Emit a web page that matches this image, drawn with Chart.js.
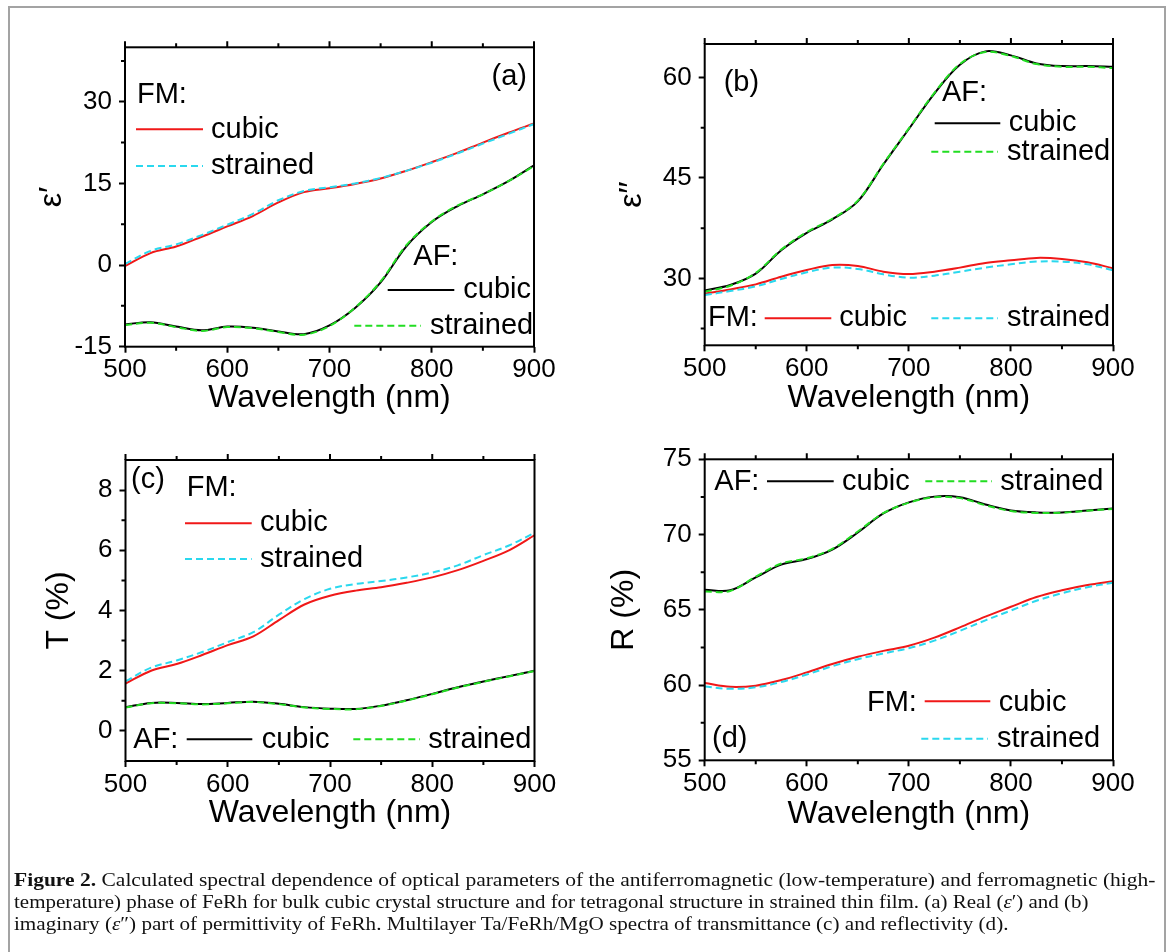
<!DOCTYPE html>
<html>
<head>
<meta charset="utf-8">
<title>FeRh optical spectra</title>
<script src="https://cdn.jsdelivr.net/npm/chart.js@4.4.1/dist/chart.umd.min.js"></script>
<style>
  html, body { margin: 0; padding: 0; background: #fff; }
  #page { position: relative; width: 1171px; height: 952px; overflow: hidden; background: #fff; }
  #frame { position: absolute; left: 8px; top: 6px; width: 1154px; height: 1000px; border: 2px solid #a3a3a3; }
  canvas { position: absolute; left: 0; top: 0; }
  .cap { position: absolute; left: 13.5px; white-space: nowrap; color: #111;
         font-family: "Liberation Serif", "DejaVu Serif", serif; font-size: 18.5px;
         line-height: 20px; transform-origin: 0 50%; }
</style>
</head>
<body>
<div id="page">
  <div id="frame"></div>
  <canvas id="panelA" width="1171" height="952"></canvas>
  <canvas id="panelB" width="1171" height="952"></canvas>
  <canvas id="panelC" width="1171" height="952"></canvas>
  <canvas id="panelD" width="1171" height="952"></canvas>
  <div class="cap" id="cap1" style="top:870px"><b>Figure 2.</b> Calculated spectral dependence of optical parameters of the antiferromagnetic (low-temperature) and ferromagnetic (high-</div>
  <div class="cap" id="cap2" style="top:892px">temperature) phase of FeRh for bulk cubic crystal structure and for tetragonal structure in strained thin film. (a) Real (<i>ε</i>′) and (b)</div>
  <div class="cap" id="cap3" style="top:913.5px">imaginary (<i>ε</i>″) part of permittivity of FeRh. Multilayer Ta/FeRh/MgO spectra of transmittance (c) and reflectivity (d).</div>
</div>

<script>
// ---- wavelength grid (nm) and axis ticks ----
const wavelength = [500, 525, 550, 575, 600, 625, 650, 675, 700, 725, 750, 775, 800, 825, 850, 875, 900];
const xMajorTicks = [500, 600, 700, 800, 900];
const xMinorTicks = [550, 650, 750, 850];

// ---- (a) real part of permittivity ----
const epsReFmCubic    = [-0.2, 2.2, 3.4, 5.2, 7.1, 9.0, 11.5, 13.4, 14.1, 14.9, 15.9, 17.3, 18.9, 20.6, 22.5, 24.3, 26.0];
const epsReFmStrained = [0.2, 2.6, 3.8, 5.5, 7.4, 9.4, 11.9, 13.6, 14.3, 15.0, 16.0, 17.3, 18.8, 20.5, 22.3, 24.1, 25.9];
const epsReAfCubic    = [-10.9, -10.5, -11.3, -12.0, -11.3, -11.5, -12.2, -12.7, -11.1, -7.9, -3.2, 3.4, 7.9, 10.8, 13.0, 15.4, 18.3];
const epsReAfStrained = [-11.0, -10.6, -11.4, -12.1, -11.4, -11.6, -12.3, -12.8, -11.2, -7.8, -3.0, 3.6, 8.0, 10.9, 13.0, 15.4, 18.2];
const epsReTicks = [-15, 0, 15, 30];
const epsReMinor = [-7.5, 7.5, 22.5, 37.5];

// ---- (b) imaginary part of permittivity ----
const epsImAfCubic    = [28.2, 29.0, 30.7, 34.2, 36.8, 38.8, 41.5, 47.0, 52.3, 57.6, 61.9, 63.9, 63.3, 62.1, 61.7, 61.7, 61.6];
const epsImAfStrained = [28.0, 28.9, 30.8, 34.3, 36.9, 38.9, 41.6, 47.1, 52.4, 57.7, 62.0, 63.8, 63.2, 62.0, 61.6, 61.6, 61.4];
const epsImFmCubic    = [27.7, 28.35, 29.1, 30.25, 31.25, 32.0, 31.85, 31.0, 30.65, 31.0, 31.6, 32.3, 32.7, 33.05, 32.9, 32.4, 31.5];
const epsImFmStrained = [27.5, 28.1, 28.8, 29.9, 30.9, 31.6, 31.4, 30.6, 30.1, 30.4, 31.0, 31.6, 32.1, 32.5, 32.5, 32.1, 31.2];
const epsImTicks = [30, 45, 60];
const epsImMinor = [22.5, 37.5, 52.5];

// ---- (c) transmittance, % ----
const tFmCubic    = [1.57, 2.0, 2.22, 2.52, 2.85, 3.14, 3.68, 4.2, 4.49, 4.66, 4.77, 4.92, 5.1, 5.34, 5.65, 6.0, 6.5];
const tFmStrained = [1.65, 2.1, 2.34, 2.62, 2.95, 3.28, 3.86, 4.38, 4.72, 4.88, 4.98, 5.1, 5.26, 5.5, 5.84, 6.16, 6.58];
const tAfCubic    = [0.79, 0.93, 0.93, 0.89, 0.93, 0.97, 0.9, 0.79, 0.74, 0.73, 0.84, 1.02, 1.23, 1.45, 1.64, 1.82, 2.0];
const tAfStrained = [0.78, 0.92, 0.92, 0.88, 0.92, 0.96, 0.89, 0.78, 0.73, 0.72, 0.83, 1.01, 1.22, 1.44, 1.63, 1.81, 1.99];
const tTicks = [0, 2, 4, 6, 8];
const tMinor = [1, 3, 5, 7];

// ---- (d) reflectivity, % ----
const rAfCubic    = [66.33, 66.3, 67.15, 68.0, 68.37, 69.0, 70.14, 71.4, 72.14, 72.52, 72.48, 72.0, 71.6, 71.47, 71.47, 71.6, 71.73];
const rAfStrained = [66.22, 66.25, 67.2, 68.08, 68.42, 69.05, 70.2, 71.42, 72.12, 72.48, 72.42, 71.95, 71.56, 71.44, 71.45, 71.58, 71.7];
const rFmCubic    = [60.13, 59.88, 59.96, 60.33, 60.84, 61.4, 61.88, 62.27, 62.61, 63.15, 63.83, 64.55, 65.2, 65.85, 66.3, 66.65, 66.9];
const rFmStrained = [59.9, 59.75, 59.85, 60.2, 60.7, 61.25, 61.72, 62.1, 62.45, 62.95, 63.6, 64.3, 64.95, 65.6, 66.1, 66.5, 66.8];
const rTicks = [55, 60, 65, 70, 75];
const rMinor = [57.5, 62.5, 67.5, 72.5];

// ---- styling ----
const RED = '#f01818', CYAN = '#2ad8ee', BLACK = '#000000', GREEN = '#22dd22';
const DASH = [7, 4];
const SANS = '"Liberation Sans", Arial, Helvetica, sans-serif';
const Y_AXIS_W = 100, X_AXIS_H = 80;

function toPoints(ys) { return wavelength.map((x, i) => ({ x: x, y: ys[i] })); }

function solid(ys, color) {
  return { data: toPoints(ys), borderColor: color, borderWidth: 2, pointRadius: 0,
           tension: 0.35, fill: false, order: 1 };
}
function dashed(ys, color) {
  return { data: toPoints(ys), borderColor: color, borderWidth: 2, borderDash: DASH, pointRadius: 0,
           tension: 0.35, fill: false, order: 0 };
}

// frame box, minor ticks, top-axis ticks and the in-plot key
const decorPlugin = {
  id: 'decor',
  afterDatasetsDraw(chart, args, o) {
    const ctx = chart.ctx, ca = chart.chartArea;
    const xs = chart.scales.x, ys = chart.scales.y;
    ctx.save();
    ctx.strokeStyle = '#000';
    ctx.lineWidth = 2;
    ctx.strokeRect(ca.left, ca.top, ca.right - ca.left, ca.bottom - ca.top);
    ctx.beginPath();
    xMinorTicks.forEach(v => {
      const px = xs.getPixelForValue(v);
      ctx.moveTo(px, ca.bottom); ctx.lineTo(px, ca.bottom + 4);
      ctx.moveTo(px, ca.top); ctx.lineTo(px, ca.top - 4);
    });
    xMajorTicks.forEach(v => {
      const px = xs.getPixelForValue(v);
      ctx.moveTo(px, ca.top); ctx.lineTo(px, ca.top - 6);
    });
    o.yMinor.forEach(v => {
      const py = ys.getPixelForValue(v);
      ctx.moveTo(ca.left, py); ctx.lineTo(ca.left - 4, py);
    });
    ctx.stroke();
    ctx.restore();
  },
  afterDraw(chart, args, o) {
    const ctx = chart.ctx;
    ctx.save();
    o.key.forEach(item => {
      if (item.text !== undefined) {
        ctx.font = '29px ' + SANS;
        ctx.fillStyle = '#000';
        ctx.textAlign = 'left';
        ctx.textBaseline = 'middle';
        ctx.fillText(item.text, item.x, item.y);
      } else {
        ctx.strokeStyle = item.color;
        ctx.lineWidth = 2;
        ctx.setLineDash(item.dash ? DASH : []);
        ctx.beginPath();
        ctx.moveTo(item.x1, item.y); ctx.lineTo(item.x2, item.y);
        ctx.stroke();
        ctx.setLineDash([]);
      }
    });
    ctx.restore();
  }
};

function makePanel(id, p) {
  const W = 1171, H = 952;
  return new Chart(document.getElementById(id), {
    type: 'line',
    data: { datasets: p.datasets },
    plugins: [decorPlugin],
    options: {
      responsive: false,
      animation: false,
      events: [],
      layout: { padding: { left: p.area.L - Y_AXIS_W, top: p.area.T,
                           right: W - p.area.R, bottom: H - p.area.B - X_AXIS_H } },
      plugins: {
        legend: { display: false },
        tooltip: { enabled: false },
        decor: { yMinor: p.yMinor, key: p.key }
      },
      scales: {
        x: {
          type: 'linear', min: 500, max: 900,
          afterBuildTicks: s => { s.ticks = xMajorTicks.map(v => ({ value: v })); },
          afterFit: s => { s.height = X_AXIS_H; },
          ticks: { color: '#000', font: { family: SANS, size: 26 }, padding: 2, maxRotation: 0,
                   callback: v => String(v) },
          grid: { display: true, drawOnChartArea: false, drawTicks: true, tickLength: 6,
                  tickWidth: 2, tickColor: '#000' },
          border: { display: false },
          title: { display: true, text: 'Wavelength (nm)', color: '#000',
                   font: { family: SANS, size: 32 }, padding: { top: 0, bottom: p.xTitlePad } }
        },
        y: {
          type: 'linear', min: p.yMin, max: p.yMax,
          afterBuildTicks: s => { s.ticks = p.yTicks.map(v => ({ value: v })); },
          afterFit: s => { s.width = Y_AXIS_W; },
          ticks: { color: '#000', font: { family: SANS, size: 26 }, padding: 7,
                   callback: v => String(v) },
          grid: { display: true, drawOnChartArea: false, drawTicks: true, tickLength: 6,
                  tickWidth: 2, tickColor: '#000' },
          border: { display: false },
          title: { display: true, text: p.yTitle, color: '#000',
                   font: { family: SANS, size: 32 }, padding: { top: p.yTitlePad, bottom: 0 } }
        }
      }
    }
  });
}

// (a) ε′
makePanel('panelA', {
  area: { L: 125, T: 47.3, R: 534, B: 346.7 },
  yMin: -15, yMax: 40, yTicks: epsReTicks, yMinor: epsReMinor,
  yTitle: 'ε′', yTitlePad: 7.5, xTitlePad: 9.5,
  datasets: [
    dashed(epsReFmStrained, CYAN), solid(epsReFmCubic, RED),
    dashed(epsReAfStrained, GREEN), solid(epsReAfCubic, BLACK)
  ],
  key: [
    { text: 'FM:', x: 137, y: 95 },
    { x1: 136, x2: 203, y: 129.3, color: RED },
    { text: 'cubic', x: 211, y: 130 },
    { x1: 136, x2: 203, y: 166, color: CYAN, dash: true },
    { text: 'strained', x: 211, y: 166 },
    { text: '(a)', x: 491.5, y: 77 },
    { text: 'AF:', x: 413.3, y: 256.7 },
    { x1: 387.7, x2: 454.3, y: 290, color: BLACK },
    { text: 'cubic', x: 463.3, y: 290 },
    { x1: 354.3, x2: 421, y: 325.7, color: GREEN, dash: true },
    { text: 'strained', x: 430, y: 325.7 }
  ]
});

// (b) ε″
makePanel('panelB', {
  area: { L: 704.7, T: 44, R: 1113, B: 345.3 },
  yMin: 20, yMax: 65, yTicks: epsImTicks, yMinor: epsImMinor,
  yTitle: 'ε′′', yTitlePad: 8.7, xTitlePad: 7.8,
  datasets: [
    dashed(epsImFmStrained, CYAN), solid(epsImFmCubic, RED),
    dashed(epsImAfStrained, GREEN), solid(epsImAfCubic, BLACK)
  ],
  key: [
    { text: '(b)', x: 723.7, y: 83.3 },
    { text: 'AF:', x: 942, y: 93.3 },
    { x1: 934.7, x2: 1000.3, y: 123.3, color: BLACK },
    { text: 'cubic', x: 1008.7, y: 123.3 },
    { x1: 931.3, x2: 998, y: 151.7, color: GREEN, dash: true },
    { text: 'strained', x: 1007, y: 151.7 },
    { text: 'FM:', x: 708, y: 318.3 },
    { x1: 764.7, x2: 831.3, y: 318.3, color: RED },
    { text: 'cubic', x: 839.3, y: 318.3 },
    { x1: 931.3, x2: 998, y: 318.3, color: CYAN, dash: true },
    { text: 'strained', x: 1007, y: 318.3 }
  ]
});

// (c) transmittance
makePanel('panelC', {
  area: { L: 125.5, T: 460, R: 534.5, B: 761 },
  yMin: -1, yMax: 9, yTicks: tTicks, yMinor: tMinor,
  yTitle: 'T (%)', yTitlePad: 14.3, xTitlePad: 8.4,
  datasets: [
    dashed(tFmStrained, CYAN), solid(tFmCubic, RED),
    dashed(tAfStrained, GREEN), solid(tAfCubic, BLACK)
  ],
  key: [
    { text: '(c)', x: 131, y: 480 },
    { text: 'FM:', x: 186.7, y: 488.3 },
    { x1: 185, x2: 251.7, y: 523.3, color: RED },
    { text: 'cubic', x: 260, y: 523.3 },
    { x1: 185, x2: 251.7, y: 559, color: CYAN, dash: true },
    { text: 'strained', x: 260, y: 559 },
    { text: 'AF:', x: 133.3, y: 740 },
    { x1: 186.7, x2: 252.3, y: 739.3, color: BLACK },
    { text: 'cubic', x: 261.7, y: 740 },
    { x1: 353.3, x2: 420, y: 739.3, color: GREEN, dash: true },
    { text: 'strained', x: 428.3, y: 740 }
  ]
});

// (d) reflectivity
makePanel('panelD', {
  area: { L: 704.7, T: 459.3, R: 1113, B: 760.3 },
  yMin: 55, yMax: 75, yTicks: rTicks, yMinor: rMinor,
  yTitle: 'R (%)', yTitlePad: 0, xTitlePad: 7.4,
  datasets: [
    dashed(rAfStrained, GREEN), solid(rAfCubic, BLACK),
    dashed(rFmStrained, CYAN), solid(rFmCubic, RED)
  ],
  key: [
    { text: 'AF:', x: 714.3, y: 482 },
    { x1: 767, x2: 833.7, y: 481.3, color: BLACK },
    { text: 'cubic', x: 842, y: 482 },
    { x1: 925.3, x2: 992, y: 481.3, color: GREEN, dash: true },
    { text: 'strained', x: 1000.3, y: 482 },
    { text: 'FM:', x: 867, y: 702.7 },
    { x1: 924.7, x2: 990.3, y: 701.3, color: RED },
    { text: 'cubic', x: 998.7, y: 702.7 },
    { x1: 921.3, x2: 988, y: 738.7, color: CYAN, dash: true },
    { text: 'strained', x: 997, y: 738.7 },
    { text: '(d)', x: 712, y: 738.7 }
  ]
});

// condense each caption line to its set width
(function fitCaption() {
  const targets = { cap1: 1141.5, cap2: 1074.5, cap3: 994.5 };
  Object.keys(targets).forEach(id => {
    const el = document.getElementById(id);
    const natural = el.getBoundingClientRect().width;
    el.style.transform = 'scaleX(' + (targets[id] / natural).toFixed(4) + ')';
  });
})();
</script>
</body>
</html>
